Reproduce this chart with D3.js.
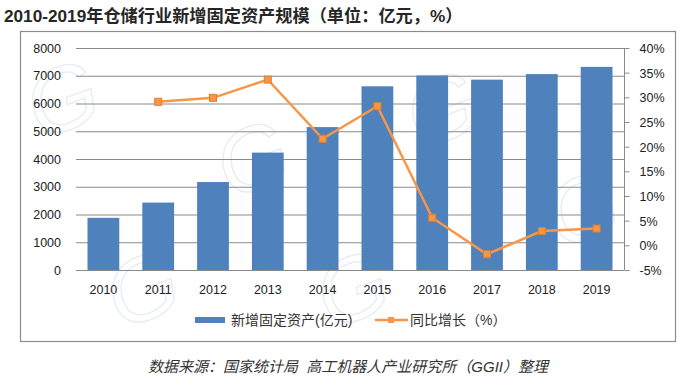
<!DOCTYPE html>
<html><head><meta charset="utf-8">
<script src="https://cdn.jsdelivr.net/npm/d3@7"></script>
<style>
html,body{margin:0;padding:0;background:#fff;}
svg{display:block;}
text{font-family:"Liberation Sans","Noto Sans CJK SC",sans-serif;}
</style></head>
<body>
<svg id="c" width="696" height="392"></svg>
<script>
const years = ["2010","2011","2012","2013","2014","2015","2016","2017","2018","2019"];
const investment = [1880, 2430, 3170, 4230, 5150, 6620, 7010, 6860, 7060, 7320];
const growth = [null, 29.1, 29.9, 33.6, 21.6, 28.2, 5.6, -1.8, 2.9, 3.4];
const leftTicks = [0,1000,2000,3000,4000,5000,6000,7000,8000];
const rightTicks = [-5,0,5,10,15,20,25,30,35,40];
const title = "2010-2019年仓储行业新增固定资产规模（单位：亿元，%）";
const seriesNames = ["新增固定资产(亿元)", "同比增长（%）"];
const source = "数据来源：国家统计局\u00A0\u00A0高工机器人产业研究所（GGII）整理";

const svg = d3.select("#c");
const L = 76, R = 624, T = 48, B = 270;
const barColor = "#4F81BD", lineColor = "#F79646";

// title
svg.append("text").attr("x",4).attr("y",22)
  .attr("font-family","'Noto Sans CJK SC',sans-serif").attr("font-weight","bold")
  .attr("font-size",17.2).attr("fill","#262626").text(title);

// frame
svg.append("rect").attr("x",20.5).attr("y",31.5).attr("width",655).attr("height",310)
  .attr("fill","none").attr("stroke","#8c8c8c").attr("stroke-width",1.2);

// faint watermark
const wm = svg.append("g").attr("fill","none").attr("stroke","#e6ecf5").attr("stroke-width",1.3)
  .attr("font-family","'DejaVu Serif',serif").attr("font-style","italic").attr("font-size",90);
[[40,140],[230,200],[420,150],[560,250],[120,330],[330,330]].forEach(([x,y])=>{
  wm.append("text").attr("x",x).attr("y",y).attr("transform",`rotate(-20,${x},${y})`).text("G");
});

const x = d3.scaleBand().domain(years).range([L,R]).paddingInner(0.42).paddingOuter(0.21);
const yL = d3.scaleLinear().domain([0,8000]).range([B,T]);
const yR = d3.scaleLinear().domain([-5,40]).range([B,T]);

// gridlines
svg.append("g").selectAll("line").data(leftTicks).join("line")
  .attr("x1",L).attr("x2",R).attr("y1",d=>yL(d)+0.5).attr("y2",d=>yL(d)+0.5)
  .attr("stroke","#8a8a8a").attr("stroke-width",1);

// bars
svg.append("g").selectAll("rect").data(investment).join("rect")
  .attr("x",(d,i)=>x(years[i])).attr("width",x.bandwidth())
  .attr("y",d=>yL(d)).attr("height",d=>B-yL(d)).attr("fill",barColor);

// left axis labels
svg.append("g").selectAll("text").data(leftTicks).join("text")
  .attr("x",61).attr("y",d=>yL(d)+4.5).attr("text-anchor","end")
  .attr("font-size",12.5).attr("fill","#222").text(d=>d);

// right axis
const rAxis = svg.append("g").attr("transform",`translate(${R+0.5},0)`)
  .call(d3.axisRight(yR).tickValues(rightTicks).tickSize(5).tickPadding(10).tickFormat(d=>d+"%"));
rAxis.select(".domain").attr("stroke","#8a8a8a").attr("d",`M0,${T}V${B}`);
rAxis.selectAll(".tick line").attr("stroke","#8a8a8a");
rAxis.selectAll(".tick text").attr("font-size",12.5).attr("fill","#222")
  .attr("font-family","'Liberation Sans',sans-serif").attr("dy","0.35em");

// x labels
svg.append("g").selectAll("text").data(years).join("text")
  .attr("x",d=>x(d)+x.bandwidth()/2).attr("y",294).attr("text-anchor","middle")
  .attr("font-size",12.5).attr("fill","#222").text(d=>d);

// line
const pts = growth.map((g,i)=>({g,i})).filter(d=>d.g!==null);
const line = d3.line().x(d=>x(years[d.i])+x.bandwidth()/2).y(d=>yR(d.g));
svg.append("path").datum(pts).attr("d",line).attr("fill","none")
  .attr("stroke",lineColor).attr("stroke-width",2.5);
svg.append("g").selectAll("rect").data(pts).join("rect")
  .attr("x",d=>x(years[d.i])+x.bandwidth()/2-3.5).attr("y",d=>yR(d.g)-3.5)
  .attr("width",7).attr("height",7).attr("fill",lineColor).attr("stroke","#e07f2e").attr("stroke-width",1);

// legend
const lg = svg.append("g");
lg.append("rect").attr("x",195).attr("y",317).attr("width",30).attr("height",6).attr("fill",barColor);
lg.append("text").attr("x",231).attr("y",325).attr("font-size",14)
  .attr("font-family","'Noto Sans CJK SC',sans-serif").attr("fill","#333").text(seriesNames[0]);
lg.append("line").attr("x1",375).attr("x2",408).attr("y1",320).attr("y2",320)
  .attr("stroke",lineColor).attr("stroke-width",2.5);
lg.append("rect").attr("x",388).attr("y",317).attr("width",6).attr("height",6).attr("fill",lineColor);
lg.append("text").attr("x",410).attr("y",325).attr("font-size",14)
  .attr("font-family","'Noto Sans CJK SC',sans-serif").attr("fill","#333").text(seriesNames[1]);

// source
svg.append("text").attr("x",348).attr("y",372).attr("text-anchor","middle")
  .attr("font-size",15).attr("font-style","italic").attr("fill","#333")
  .attr("font-family","'Noto Sans CJK SC',sans-serif").text(source);
</script>
</body></html>
